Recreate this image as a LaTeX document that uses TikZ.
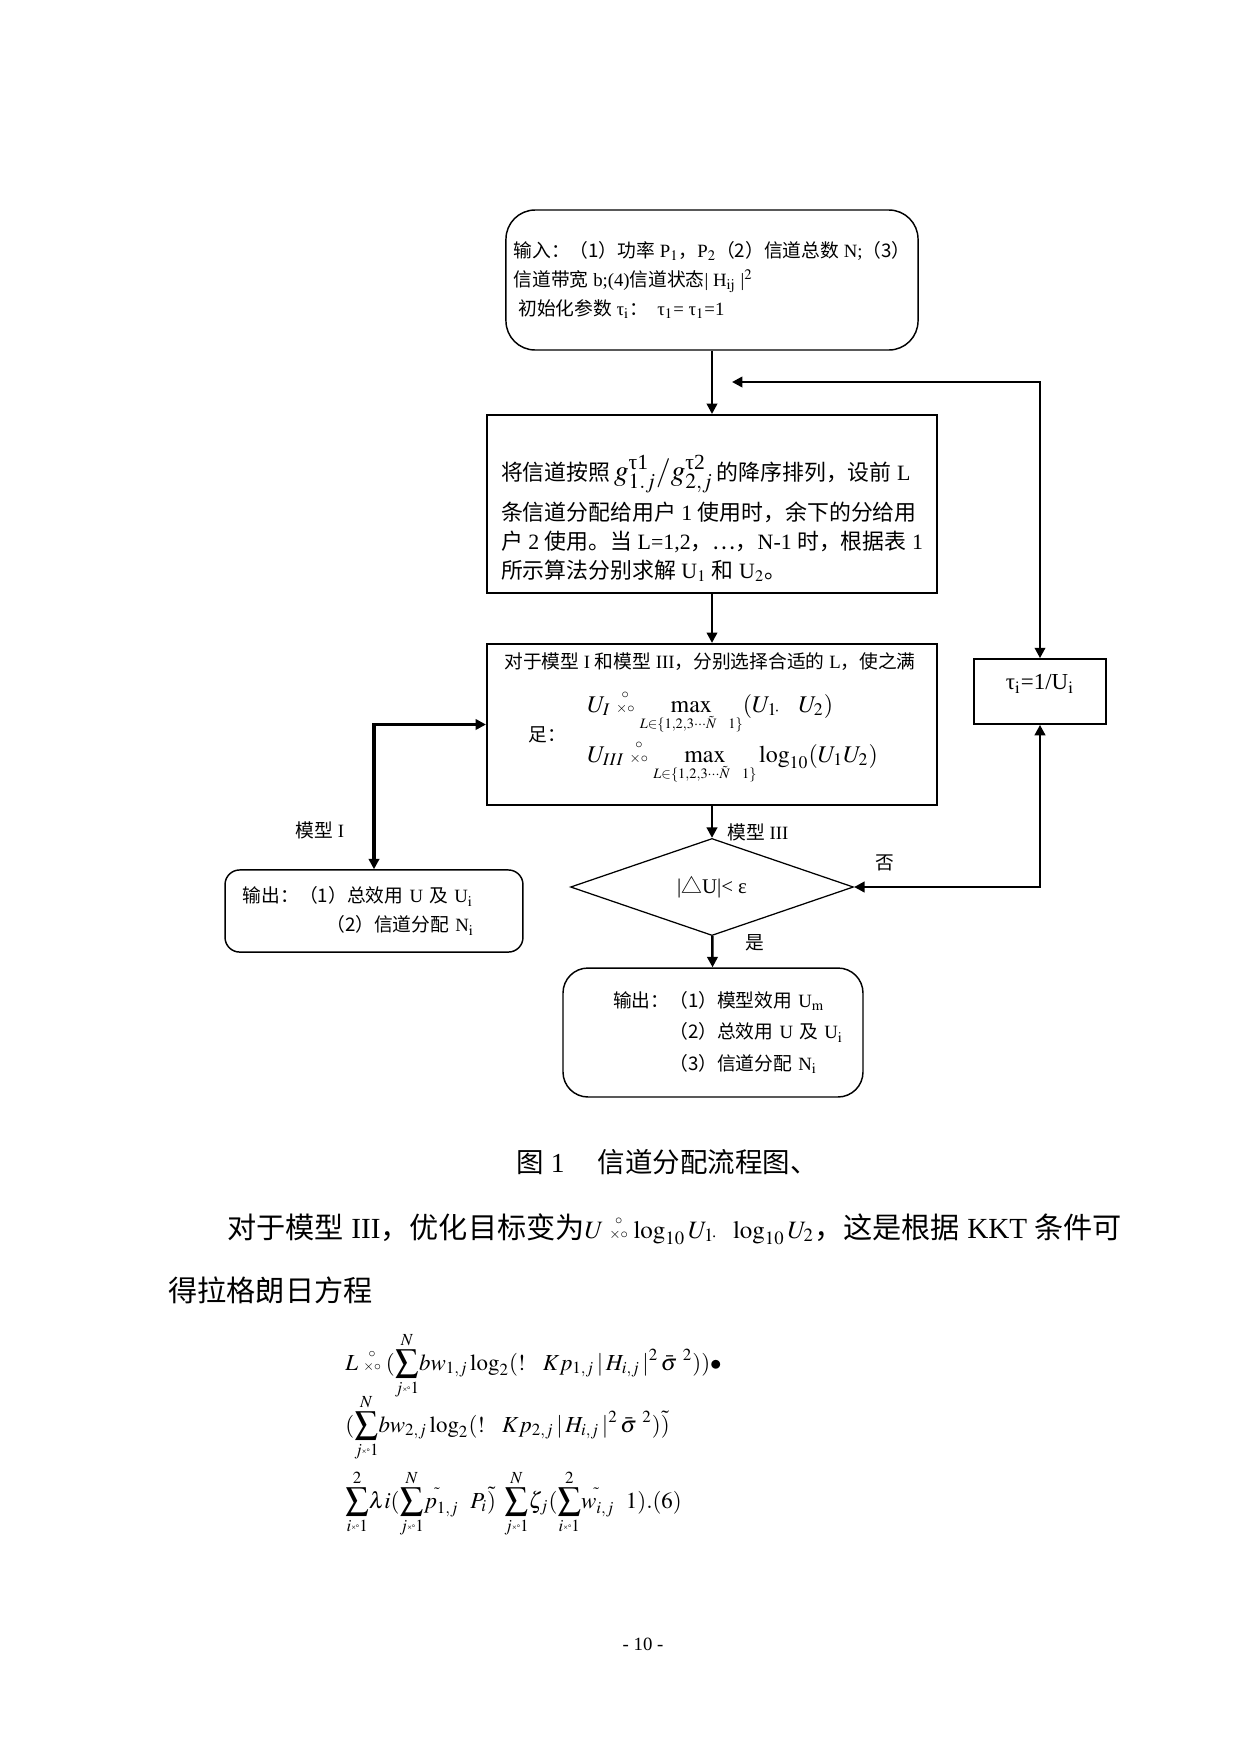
\documentclass[tikz,border=0pt]{standalone}
\usepackage{amsmath}
\usepackage{mathptmx}
\usepackage{fontspec}
\setmainfont{Liberation Serif}
\newfontfamily\zhfont{Noto Sans CJK SC}
\newcommand\zh[1]{{\zhfont #1}}
% garbled "=" sign as printed in the page
\newcommand\gb{\mathrel{\overset{\scriptscriptstyle\circ}{\scriptscriptstyle\times\circ}}}
\newcommand\gbs{\text{\fontsize{4}{4}\selectfont\raisebox{.4ex}{×°}}}
\newcommand\xiaowu{\fontsize{9}{14}\selectfont}
\newcommand\wuhao{\fontsize{10.5}{14}\selectfont}
\usetikzlibrary{shapes.geometric,arrows.meta}
\tikzset{
  yuanjiao/.style={draw, line width=.7pt, rounded corners=12pt, align=left, inner sep=0pt, font=\xiaowu},
  hezi/.style={draw, line width=1pt, align=left, inner sep=0pt},
  lingxing/.style={draw, diamond, line width=.6pt, inner sep=0pt, minimum width=135.8pt, minimum height=46.6pt},
  jiantou/.style={-{Triangle[length=5pt,width=5pt]}, line width=1.2pt},
  shuang/.style={{Triangle[length=5pt,width=5pt]}-{Triangle[length=5pt,width=5pt]}, line width=1.2pt},
  biaoqian/.style={font=\xiaowu, inner sep=0pt},
}
\begin{document}
\begin{tikzpicture}[x=0.48pt,y=-0.48pt]
  \fill[white] (0,0) rectangle (1241,1754);
  \useasboundingbox (0,0) rectangle (1241,1754);

  % Kuang: shuru, paixu, xuanze, panduan, shuchu.
  \node[yuanjiao, rounded corners=14pt, minimum width=197.8pt, minimum height=67.2pt] (shuru) at (712,280)
    {\zh{输入：（1）功率} P$_1$\zh{，}P$_2$\zh{（2）信道总数} N;\zh{（3）}\\
     \zh{信道带宽} b;(4)\zh{信道状态}| H$_{\mathrm{ij}}$ |$^2$\\
     \ \zh{初始化参数} τ$_{\mathrm{i}}$\zh{：}\ \ τ$_1$= τ$_1$=1};
  \node[hezi, font=\wuhao, minimum width=216pt, minimum height=85.4pt] (paixu) at (712,504)
    {\rule{0pt}{26pt}\zh{将信道按照}\,{\fontsize{14}{14}\selectfont$g^{\text{τ1}}_{1.j}/g^{\text{τ2}}_{2,j}$}\,\zh{的降序排列，设前} L\\[3pt]
     \zh{条信道分配给用户} 1 \zh{使用时，余下的分给用}\\
     \zh{户} 2 \zh{使用。当} L=1,2\zh{，…，}N-1 \zh{时，根据表} 1\\
     \zh{所示算法分别求解} U$_1$ \zh{和} U$_2$\zh{。}};
  \node[hezi, minimum width=216pt, minimum height=77.3pt] (xuanze) at (712,724.5) {};
  \node[biaoqian] (tiaojian) at (710,662)
    {\zh{对于模型} I \zh{和模型} III\zh{，分别选择合适的} L\zh{，使之满}};
  \node[biaoqian] (zu) at (547,735) {\zh{足：}};
  \node[anchor=base west, inner sep=0pt, font=\fontsize{11.5}{13}\selectfont] (mubiaoI) at (587,712)
    {$U_I \gb \max\limits_{\scriptscriptstyle L\in\{1,2,3\cdots\tilde N\ \ 1\}}(U_{1\!\cdot}\ \ \ U_2)$};
  \node[anchor=base west, inner sep=0pt, font=\fontsize{11.5}{13}\selectfont] (mubiaoIII) at (587,762)
    {$U_{III} \gb \max\limits_{\scriptscriptstyle L\in\{1,2,3\cdots\tilde N\ \ 1\}}\log_{10}(U_1U_2)$};
  \node[lingxing, font=\fontsize{10}{12}\selectfont] (panduan) at (712,887) {|\zh{△}U|< ε};
  \node[yuanjiao, rounded corners=7pt, text width=125.8pt, inner xsep=8.6pt, minimum height=39.4pt] (shuchu1) at (374,911)
    {\zh{输出：（1）总效用} U \zh{及} U$_{\mathrm{i}}$\\
     \hspace*{40pt}\zh{（2）信道分配} N$_{\mathrm{i}}$};
  \node[yuanjiao, text width=96pt, inner xsep=24pt, minimum height=61.9pt, font=\fontsize{9}{15}\selectfont] (shuchu3) at (713,1032.5)
    {\mbox{\zh{输出：（1）模型效用} U$_{\mathrm{m}}$}\\
     \mbox{\hspace*{27pt}\zh{（2）总效用} U \zh{及} U$_{\mathrm{i}}$}\\
     \mbox{\hspace*{27pt}\zh{（3）信道分配} N$_{\mathrm{i}}$}};
  \node[hezi, line width=.8pt, align=center, minimum width=63.4pt, minimum height=31.2pt,
        text height=8pt, text depth=10pt, font=\fontsize{11}{13}\selectfont] (gengxin) at (1040,691.5)
    {τ$_{\mathrm{i}}$=1/U$_{\mathrm{i}}$};
  \coordinate (huifan) at (732,382);

  % Lianxian.
  \draw[jiantou] (shuru) -- (paixu);
  \draw[jiantou] (paixu) -- (xuanze);
  \draw[jiantou] (xuanze) -- (panduan);
  \draw[jiantou] (panduan) -- (shuchu3);
  \draw[shuang, line width=1.6pt] (xuanze.west) -| (shuchu1.north);
  \draw[shuang] (panduan.east) -| (gengxin.south);
  \draw[shuang] (huifan) -| (gengxin.north);

  \node[biaoqian] (moxingI) at (320,830) {\zh{模型} I};
  \node[biaoqian, anchor=west] (moxingIII) at (727,832) {\zh{模型} III};
  \node[biaoqian] (fou) at (885,863) {\zh{否}};
  \node[biaoqian] (shi) at (755,943) {\zh{是}};

  % Zhengwen.
  \node[anchor=base, inner sep=0pt, font=\fontsize{13.2}{16}\selectfont] (tuming) at (667,1172)
    {\zh{图} 1\hspace{1.2em}\zh{信道分配流程图、}};
  \node[anchor=base west, inner sep=0pt, font=\fontsize{14}{18}\selectfont] (zhengwen1) at (227,1238)
    {\zh{对于模型} III\zh{，优化目标变为}{\fontsize{12}{14}\selectfont$U\gb\log_{10}U_{1\!\cdot}\ \ \log_{10}U_2$}\zh{，这是根据} KKT \zh{条件可}};
  \node[anchor=base west, inner sep=0pt, font=\fontsize{14}{18}\selectfont] (zhengwen2) at (168,1301)
    {\zh{得拉格朗日方程}};
  \node[anchor=base west, inner sep=0pt, font=\fontsize{11}{14}\selectfont] (fangcheng1) at (345,1370)
    {$\displaystyle L \gb(\sum_{j\gbs1}^{N}\! bw_{1,j}\log_2(!\ \ \ Kp_{1,j}\,|\,H_{i,j}\,|^2\,\bar\sigma\ ^{2}))\bullet$};
  \node[anchor=base west, inner sep=0pt, font=\fontsize{11}{14}\selectfont] (fangcheng2) at (345,1432)
    {$\displaystyle (\sum_{j\gbs1}^{N}\! bw_{2,j}\log_2(!\ \ \ Kp_{2,j}\,|\,H_{i,j}\,|^2\,\bar\sigma\ ^{2})\tilde{)}$};
  \node[anchor=base west, inner sep=0pt, font=\fontsize{11}{14}\selectfont] (fangcheng3) at (345,1508)
    {$\displaystyle \sum_{i\gbs1}^{2}\!\lambda i(\sum_{j\gbs1}^{N}\! p_{1,j}^{\tilde{}}\ \ P_i\tilde{)}\ \sum_{j\gbs1}^{N}\!\zeta_j(\sum_{i\gbs1}^{2}\! w_{i,j}^{\tilde{}}\ \ 1).(6)$};
  \node[anchor=base, inner sep=0pt, font=\fontsize{9}{11}\selectfont] (yema) at (643,1650) {- 10 -};
\end{tikzpicture}
\end{document}
